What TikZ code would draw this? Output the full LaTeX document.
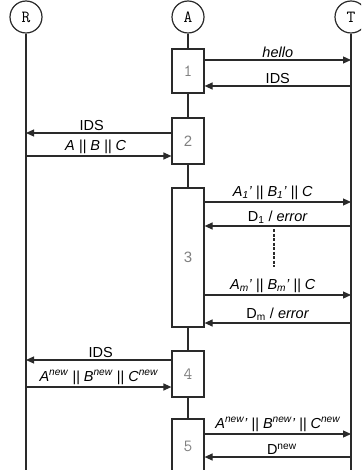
\documentclass[tikz,border=0pt]{standalone}
\usepackage{fontspec}
\setmainfont{Liberation Sans}
\usetikzlibrary{arrows.meta}
\definecolor{ink}{HTML}{2A2A2A}
\definecolor{numgray}{HTML}{808080}
\begin{document}
\begin{tikzpicture}[x=1pt,y=-1pt,font=\fontsize{14.5}{16}\selectfont,
  life/.style={line width=1.2pt,draw=ink},
  actor/.style={circle,draw=ink,line width=1.2pt,minimum size=32pt,inner sep=0pt,fill=white,font=\ttfamily\fontsize{17}{18}\selectfont},
  stepbox/.style={draw=ink,line width=1.2pt,fill=white,minimum width=32pt,inner sep=0pt,text=numgray,font=\ttfamily\fontsize{17}{18}\selectfont},
  sfnum/.style={font=\fontsize{15}{18}\selectfont},
  msg/.style={line width=1.2pt,draw=ink,-{Triangle[length=8pt,width=7pt]}},
  lbl/.style={above,inner sep=2pt}]
\useasboundingbox (0,0) rectangle (361,470);
\clip (0,0) rectangle (361,470);
% actors
\node[actor] (R) at (26,17) {R};
\node[actor] (A) at (188,17) {A};
\node[actor] (T) at (351,17) {T};
\coordinate (bot) at (0,475);
\draw[life] (R.south) -- (R |- bot);
\draw[life] (A.south) -- (A |- bot);
\draw[life] (T.south) -- (T |- bot);
% boxes
\node[stepbox,minimum height=44pt] (b1) at (188,71) {1};
\node[stepbox,sfnum,minimum height=46pt] (b2) at (188,141) {2};
\node[stepbox,sfnum,minimum height=139pt] (b3) at (188,257.5) {3};
\node[stepbox,minimum height=46pt] (b4) at (188,374) {4};
\node[stepbox,minimum height=54pt] (b5) at (188,446) {5};
% step 1
\coordinate (y1a) at (0,60);
\coordinate (y1b) at (0,86);
\draw[msg] (b1.east |- y1a) -- node[lbl]{\textit{hello}} (T |- y1a);
\draw[msg] (T |- y1b) -- node[lbl]{IDS} (b1.east |- y1b);
% step 2
\coordinate (y2a) at (0,133);
\coordinate (y2b) at (0,156);
\draw[msg] (b2.west |- y2a) -- node[lbl,xshift=-7pt]{IDS} (R |- y2a);
\draw[msg] (R |- y2b) -- node[lbl,xshift=-3pt]{\textit{A || B || C}} (b2.west |- y2b);
% step 3
\coordinate (y3a) at (0,202);
\coordinate (y3b) at (0,226);
\coordinate (y3c) at (0,295);
\coordinate (y3d) at (0,323);
\draw[msg] (b3.east |- y3a) -- node[lbl,xshift=-5pt]{\textit{A\textsubscript{1}' || B\textsubscript{1}' || C}} (T |- y3a);
\draw[msg] (T |- y3b) -- node[lbl]{D\textsubscript{1} / \textit{error}} (b3.east |- y3b);
\coordinate (d1) at (274,229);
\coordinate (d2) at (274,267);
\draw[ink,line width=2.4pt,dash pattern=on 3pt off 1.5pt] (d1) -- (d2);
\draw[msg] (b3.east |- y3c) -- node[lbl,xshift=-5pt]{\textit{A\textsubscript{m}' || B\textsubscript{m}' || C}} (T |- y3c);
\draw[msg] (T |- y3d) -- node[lbl]{D\textsubscript{m} / \textit{error}} (b3.east |- y3d);
% step 4
\coordinate (y4a) at (0,360);
\coordinate (y4b) at (0,387);
\draw[msg] (b4.west |- y4a) -- node[lbl,xshift=2pt]{IDS} (R |- y4a);
\draw[msg] (R |- y4b) -- node[lbl]{\textit{A\textsuperscript{new} || B\textsuperscript{new} || C\textsuperscript{new}}} (b4.west |- y4b);
% step 5
\coordinate (y5a) at (0,434);
\coordinate (y5b) at (0,457);
\draw[msg] (b5.east |- y5a) -- node[lbl]{\textit{A\textsuperscript{new}' || B\textsuperscript{new}' || C\textsuperscript{new}}} (T |- y5a);
\draw[msg] (T |- y5b) -- node[lbl,xshift=4pt]{D\textsuperscript{new}} (b5.east |- y5b);
\end{tikzpicture}
\end{document}
